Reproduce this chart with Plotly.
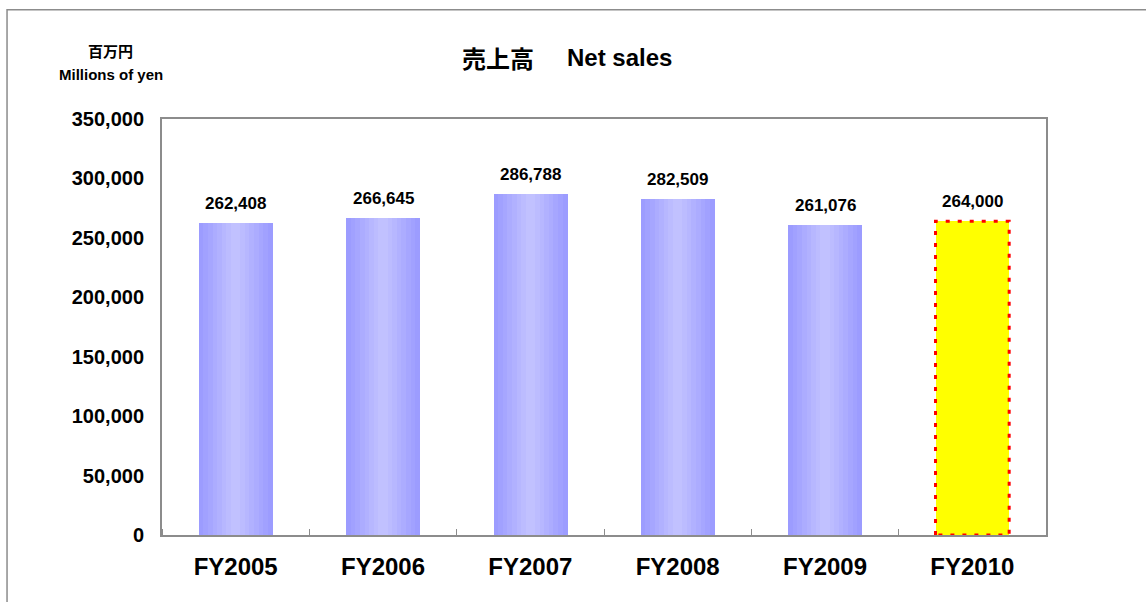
import plotly.graph_objects as go

years = ["FY2005", "FY2006", "FY2007", "FY2008", "FY2009", "FY2010"]
net_sales = [262408, 266645, 286788, 282509, 261076, 264000]
# last year is the forecast (drawn yellow with a dotted outline)
actual_years = 5

BAR_W = 0.5
N_STRIPS = 16
EDGE = (153, 153, 255)
MID = (196, 196, 255)


def strip_colour(k):
    # light in the middle, darker at both edges
    t = abs((k + 0.5) / N_STRIPS - 0.5) * 2
    r, g, b = [round(m + (e - m) * t) for m, e in zip(MID, EDGE)]
    return f"rgb({r},{g},{b})"


x_pos = list(range(len(years)))
fig = go.Figure()

# gradient bars for the actual years, built as thin strips
sw = BAR_W / N_STRIPS
for k in range(N_STRIPS):
    fig.add_trace(
        go.Bar(
            x=x_pos[:actual_years],
            y=net_sales[:actual_years],
            width=sw * 1.08,
            offset=-BAR_W / 2 + k * sw,
            marker=dict(color=strip_colour(k), line=dict(width=0)),
            hoverinfo="skip",
            showlegend=False,
        )
    )

# forecast bar
fx = x_pos[actual_years:]
fy = net_sales[actual_years:]
fig.add_trace(
    go.Bar(
        x=fx,
        y=fy,
        width=BAR_W,
        marker=dict(color="#FFFF00", line=dict(width=0)),
        showlegend=False,
    )
)
for x, v in zip(fx, fy):
    fig.add_trace(
        go.Scatter(
            x=[x - BAR_W / 2, x - BAR_W / 2, x + BAR_W / 2, x + BAR_W / 2, x - BAR_W / 2],
            y=[0, v, v, 0, 0],
            mode="lines",
            line=dict(color="#FF0000", width=3, dash="4px,8px"),
            hoverinfo="skip",
            showlegend=False,
        )
    )

for x, v in zip(x_pos, net_sales):
    fig.add_annotation(
        x=x, y=v, text=f"<b>{v:,}</b>", showarrow=False, yanchor="bottom", yshift=8,
        font=dict(size=17, color="black", family="Liberation Sans"),
    )

fig.add_annotation(
    xref="paper", yref="paper", x=0.380, y=1.149, text="<b>売上高</b>", showarrow=False,
    xanchor="center", yanchor="middle",
    font=dict(size=24, color="black", family="Noto Sans CJK JP"),
)
fig.add_annotation(
    xref="paper", yref="paper", x=0.517, y=1.149, text="<b>Net sales</b>", showarrow=False,
    xanchor="center", yanchor="middle",
    font=dict(size=24, color="black", family="Liberation Sans"),
)
fig.add_annotation(
    xref="paper", yref="paper", x=-0.058, y=1.164, text="<b>百万円</b>", showarrow=False,
    xanchor="center", yanchor="middle",
    font=dict(size=15, color="black", family="Noto Sans CJK JP"),
)
fig.add_annotation(
    xref="paper", yref="paper", x=-0.058, y=1.107, text="<b>Millions of yen</b>", showarrow=False,
    xanchor="center", yanchor="middle",
    font=dict(size=15, color="black", family="Liberation Sans"),
)

# outer chart border
fig.add_shape(
    type="rect", xref="paper", yref="paper", x0=-0.1753, y0=-0.2, x1=1.2, y1=1.2627,
    line=dict(color="#8c8c8c", width=1.5), layer="below",
)

fig.update_layout(
    width=1146,
    height=602,
    margin=dict(l=162, r=100, t=119, b=67),
    paper_bgcolor="white",
    plot_bgcolor="white",
    barmode="overlay",
    bargap=0,
    font=dict(family="Liberation Sans", color="black"),
    xaxis=dict(
        range=[-0.5, 5.5],
        tickvals=x_pos,
        ticktext=[f"<b>{y}</b>" for y in years],
        tickfont=dict(size=24),
        ticks="",
        showgrid=False,
        zeroline=False,
        showline=True,
        linecolor="#8c8c8c",
        linewidth=2,
        mirror=True,
        ticklabelstandoff=9,
        minor=dict(tick0=0.5, dtick=1, ticks="inside", ticklen=6, tickcolor="#8c8c8c", tickwidth=1),
    ),
    yaxis=dict(
        range=[0, 350000],
        dtick=50000,
        tickformat=",d",
        tickfont=dict(size=20),
        showgrid=False,
        zeroline=False,
        showline=True,
        linecolor="#8c8c8c",
        linewidth=2,
        mirror=True,
        ticks="",
        ticklabelstandoff=12,
    ),
)
fig.update_yaxes(tickprefix="<b>", ticksuffix="</b>")

fig.write_html(
    "out.html",
    config={"displayModeBar": False},
    post_script="document.body.style.margin='0';",
)
